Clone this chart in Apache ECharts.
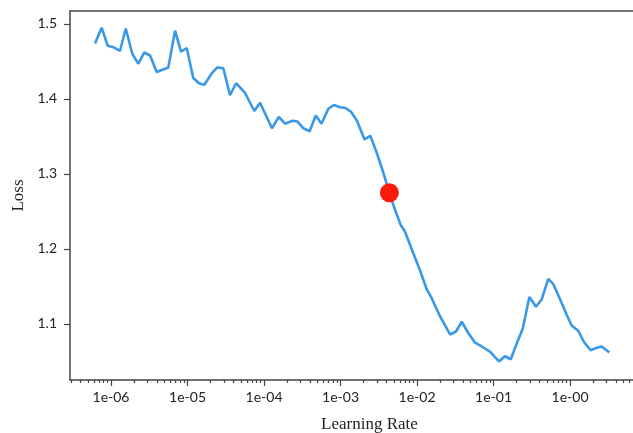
<!DOCTYPE html>
<html>
<head>
<meta charset="UTF-8">
<title>LR finder</title>
<script src="https://cdn.jsdelivr.net/npm/echarts@6/dist/echarts.min.js"></script>
<style>
  html, body { margin: 0; padding: 0; background: #fff; }
</style>
</head>
<body>
<div id="main" style="width: 633px;height:433px;"></div>
<script type="text/javascript">
// learning rates (x) and loss values (y)
var lrValues = [
  6.18e-7, 7.55e-7, 9.05e-7, 1.07e-6, 1.31e-6, 1.56e-6, 1.90e-6, 2.28e-6, 2.72e-6, 3.24e-6,
  3.95e-6, 5.61e-6, 6.87e-6, 8.22e-6, 9.76e-6, 1.19e-5, 1.41e-5, 1.66e-5, 2.07e-5, 2.45e-5,
  2.94e-5, 3.59e-5, 4.31e-5, 5.65e-5, 7.46e-5, 8.87e-5, 1.27e-4, 1.56e-4, 1.88e-4, 2.36e-4,
  2.72e-4, 3.26e-4, 3.95e-4, 4.74e-4, 5.64e-4, 6.93e-4, 8.22e-4, 9.85e-4, 1.16e-3, 1.37e-3,
  1.64e-3, 2.06e-3, 2.45e-3, 2.91e-3, 3.54e-3, 4.35e-3, 5.16e-3, 6.12e-3, 6.97e-3, 8.95e-3,
  1.09e-2, 1.34e-2, 1.56e-2, 2.00e-2, 2.70e-2, 3.23e-2, 3.84e-2, 4.68e-2, 5.73e-2, 7.01e-2,
  9.00e-2, 1.015e-1, 1.18e-1, 1.41e-1, 1.68e-1, 2.01e-1, 2.41e-1, 2.94e-1, 3.59e-1, 4.27e-1,
  5.20e-1, 6.05e-1, 7.40e-1, 9.06e-1, 1.05, 1.28, 1.52, 1.86, 2.19, 2.59, 3.26
];
var lossValues = [
  1.474, 1.495, 1.471, 1.469, 1.464, 1.494, 1.460, 1.447, 1.462, 1.458,
  1.436, 1.442, 1.491, 1.463, 1.468, 1.428, 1.421, 1.419, 1.434, 1.442,
  1.441, 1.405, 1.421, 1.408, 1.384, 1.395, 1.361, 1.376, 1.367, 1.371,
  1.370, 1.361, 1.357, 1.378, 1.367, 1.387, 1.392, 1.389, 1.388, 1.383,
  1.371, 1.346, 1.351, 1.331, 1.305, 1.275, 1.252, 1.232, 1.223, 1.194,
  1.172, 1.146, 1.134, 1.110, 1.086, 1.090, 1.103, 1.088, 1.075, 1.070,
  1.063, 1.057, 1.050, 1.057, 1.053, 1.074, 1.094, 1.136, 1.123, 1.133,
  1.160, 1.153, 1.133, 1.112, 1.098, 1.091, 1.076, 1.065, 1.068, 1.070, 1.062
];
// suggested learning rate (red dot)
var bestLr = [4.35e-3];
var bestLoss = [1.275];

var xTickValues = [1e-6, 1e-5, 1e-4, 1e-3, 1e-2, 1e-1, 1e0];
var yTickValues = [1.1, 1.2, 1.3, 1.4, 1.5];

var minorTicks = [];
for (var d = -7; d <= 1; d++) {
  for (var k = 2; k <= 9; k++) {
    minorTicks.push(k * Math.pow(10, d));
  }
}

var curve = [];
for (var i = 0; i < lrValues.length; i++) {
  curve.push([lrValues[i], lossValues[i]]);
}
var dot = [];
for (var j = 0; j < bestLr.length; j++) {
  dot.push([bestLr[j], bestLoss[j]]);
}

var labelFont = 'Lato';
var axisColor = '#444';
var xMin = 2.91e-7, xMax = 6.65;

var myChart = echarts.init(document.getElementById('main'));
var option = {
  backgroundColor: '#ffffff',
  animation: false,
  grid: { left: 70, top: 11, right: 0, bottom: 53, outerBoundsMode: 'none', containLabel: false },
  xAxis: [{
    type: 'log',
    min: xMin,
    max: xMax,
    name: 'Learning Rate',
    nameLocation: 'middle',
    nameGap: 36,
    nameTextStyle: { fontFamily: 'Liberation Serif', fontSize: 17, color: '#222', padding: [0, 0, 0, 36] },
    axisLine: { show: true, lineStyle: { color: axisColor, width: 1.5 } },
    axisTick: { show: true, length: 6, customValues: xTickValues, lineStyle: { color: axisColor, width: 1.2 } },
    axisLabel: {
      customValues: xTickValues,
      margin: 10,
      fontFamily: labelFont, fontSize: 14, color: '#222',
      formatter: function (v) {
        var e = Math.round(Math.log10(v));
        var a = Math.abs(e);
        return '1e-' + (a < 10 ? '0' + a : a);
      }
    },
    splitLine: { show: false }
  }, {
    // minor ticks only
    type: 'log',
    min: xMin,
    max: xMax,
    position: 'bottom',
    axisLine: { show: false },
    axisTick: { show: true, length: 3, customValues: minorTicks, lineStyle: { color: axisColor, width: 1.2 } },
    axisLabel: { show: false },
    splitLine: { show: false }
  }, {
    // top frame line
    type: 'log',
    min: xMin,
    max: xMax,
    position: 'top',
    axisLine: { show: true, lineStyle: { color: axisColor, width: 1.5 } },
    axisTick: { show: false },
    axisLabel: { show: false },
    splitLine: { show: false }
  }],
  yAxis: {
    type: 'value',
    min: 1.0253,
    max: 1.5173,
    name: 'Loss',
    nameLocation: 'middle',
    nameGap: 43,
    nameTextStyle: { fontFamily: 'Liberation Serif', fontSize: 17, color: '#222' },
    axisLine: { show: true, lineStyle: { color: axisColor, width: 1.5 } },
    axisTick: { show: true, length: 6, customValues: yTickValues, lineStyle: { color: axisColor, width: 1.2 } },
    axisLabel: {
      customValues: yTickValues,
      margin: 13,
      fontFamily: labelFont, fontSize: 14, color: '#222',
      formatter: function (v) { return v.toFixed(1); }
    },
    splitLine: { show: false }
  },
  series: [{
    type: 'line',
    xAxisIndex: 0,
    data: curve,
    showSymbol: false,
    smooth: false,
    lineStyle: { color: '#3a98e6', width: 2.6 },
    z: 2
  }, {
    type: 'scatter',
    xAxisIndex: 0,
    data: dot,
    symbolSize: 19,
    itemStyle: { color: '#fb1a0c', opacity: 1 },
    z: 3
  }]
};
myChart.setOption(option);
</script>
</body>
</html>
